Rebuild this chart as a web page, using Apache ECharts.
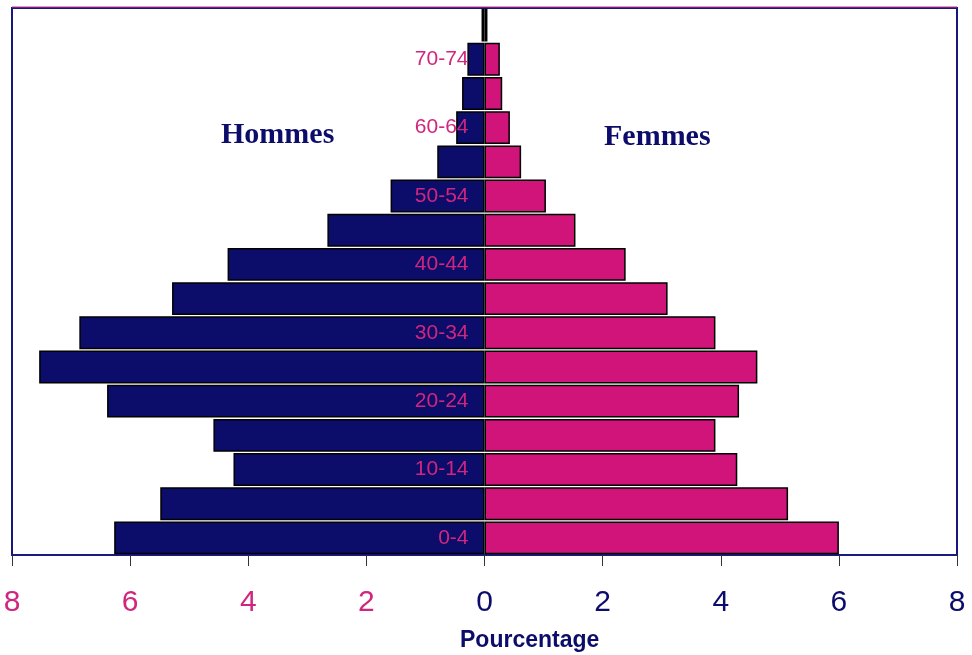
<!DOCTYPE html>
<html>
<head>
<meta charset="utf-8">
<script src="https://cdn.jsdelivr.net/npm/echarts@6/dist/echarts.min.js"></script>
<style>
  html, body { margin: 0; padding: 0; background: #ffffff; }
  #chart { width: 972px; height: 655px; }
</style>
</head>
<body>
<div id="chart"></div>
<script>
// Age groups, youngest at the bottom
const ageGroups = ['0-4', '5-9', '10-14', '15-19', '20-24', '25-29', '30-34', '35-39',
  '40-44', '45-49', '50-54', '55-59', '60-64', '65-69', '70-74', '75+'];

// Share of the population (%) per age group
const hommes = [6.27, 5.49, 4.25, 4.59, 6.39, 7.54, 6.86, 5.29,
  4.35, 2.66, 1.59, 0.80, 0.48, 0.38, 0.29, 0.05];
const femmes = [6.00, 5.14, 4.28, 3.91, 4.31, 4.62, 3.91, 3.10,
  2.39, 1.54, 1.04, 0.62, 0.43, 0.30, 0.26, 0.05];

// Percent axis tick labels
const xTicks = [-8, -6, -4, -2, 0, 2, 4, 6, 8];

const NAVY = '#0c0c6a';
const MAGENTA = '#d0147a';
const LABEL_PINK = '#d0267e';
const TICK_FONT = '"Liberation Sans", Arial, sans-serif';

const chart = echarts.init(document.getElementById('chart'), null, { renderer: 'canvas' });

chart.setOption({
  animation: false,
  backgroundColor: '#ffffff',
  grid: {
    left: 12, right: 15, top: 8, bottom: 100,
    containLabel: false,
    outerBoundsMode: 'none',
    show: true,
    borderColor: '#16167e',
    borderWidth: 2,
    backgroundColor: 'transparent'
  },
  xAxis: {
    type: 'value',
    min: xTicks[0],
    max: xTicks[xTicks.length - 1],
    interval: 2,
    splitLine: { show: false },
    axisLine: { show: true, lineStyle: { color: '#1a1a80', width: 2 } },
    axisTick: { show: true, length: 11, lineStyle: { color: '#333333', width: 1 } },
    axisLabel: {
      margin: 33,
      formatter: function (v) {
        return v < 0 ? '{neg|' + Math.abs(v) + '}' : '{pos|' + v + '}';
      },
      rich: {
        neg: { color: LABEL_PINK, fontSize: 30, fontFamily: TICK_FONT },
        pos: { color: NAVY, fontSize: 30, fontFamily: TICK_FONT }
      }
    }
  },
  yAxis: {
    type: 'category',
    data: ageGroups,
    axisLine: { show: false },
    axisTick: { show: false },
    splitLine: { show: false },
    axisLabel: { show: false }
  },
  series: [
    {
      name: 'Hommes',
      type: 'bar',
      data: hommes.map(v => -v),
      barCategoryGap: '4%',
      barGap: '-100%',
      itemStyle: { color: NAVY, borderColor: '#000000', borderWidth: 1.5 }
    },
    {
      name: 'Femmes',
      type: 'bar',
      data: femmes,
      barCategoryGap: '4%',
      barGap: '-100%',
      itemStyle: { color: MAGENTA, borderColor: '#000000', borderWidth: 1.5 }
    },
    {
      // age group names, every other group, just left of the centre line
      name: 'ages',
      type: 'scatter',
      symbolSize: 0,
      silent: true,
      z: 5,
      itemStyle: { opacity: 1 },
      data: ageGroups.map((g, i) => [0, i]),
      label: {
        show: true,
        position: 'left',
        distance: 16,
        color: LABEL_PINK,
        opacity: 1,
        fontSize: 21,
        fontFamily: '"Liberation Sans", Arial, sans-serif',
        formatter: function (p) {
          return p.dataIndex % 2 === 0 ? ageGroups[p.dataIndex] : '';
        }
      }
    }
  ],
  graphic: [
    {
      type: 'line',
      shape: { x1: 12, y1: 7, x2: 957, y2: 7 },
      style: { stroke: '#d0307a', lineWidth: 1 },
      z: 20
    },
    {
      type: 'text',
      left: 221, top: 120,
      style: {
        text: 'Hommes',
        fill: NAVY,
        font: 'bold 30px "Liberation Serif", "Times New Roman", serif'
      }
    },
    {
      type: 'text',
      left: 604, top: 122,
      style: {
        text: 'Femmes',
        fill: NAVY,
        font: 'bold 30px "Liberation Serif", "Times New Roman", serif'
      }
    },
    {
      type: 'text',
      left: 460, top: 629,
      style: {
        text: 'Pourcentage',
        fill: NAVY,
        font: 'bold 23px "Liberation Sans", Arial, sans-serif'
      }
    }
  ]
});
</script>
</body>
</html>
